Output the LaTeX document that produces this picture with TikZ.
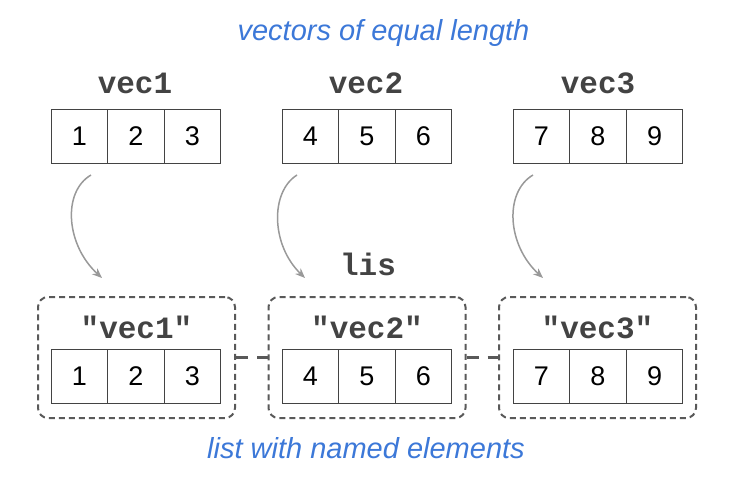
\documentclass[tikz,border=0pt]{standalone}
\usepackage{fontspec}
\setmainfont{Liberation Sans}
\newfontfamily\codefont{Liberation Mono}
\usetikzlibrary{arrows.meta}
\definecolor{titleblue}{HTML}{3C78D8}
\definecolor{codegray}{HTML}{434343}
\definecolor{boxgray}{HTML}{595959}
\definecolor{arrowgray}{HTML}{999999}
\begin{document}
\begin{tikzpicture}[x=1pt,y=-1pt,
    cell/.style={draw=codegray,line width=1pt,minimum width=56.5pt,minimum height=54pt,
      inner sep=0pt,font=\fontsize{27}{27}\selectfont},
    code/.style={text=codegray,font=\codefont\bfseries\fontsize{31}{31}\selectfont},
    caption/.style={text=titleblue,font=\itshape\fontsize{29}{29}\selectfont},
    holder/.style={draw=boxgray,line width=2pt,dash pattern=on 6pt off 4pt,
      rounded corners=10pt,minimum width=197pt,minimum height=121pt},
    link/.style={draw=boxgray,line width=3pt,dash pattern=on 12pt off 9pt},
    curvearrow/.style={draw=arrowgray,line width=1.5pt,-{Stealth[length=10pt,width=8pt]}}]
        \useasboundingbox (0,0) rectangle (736,485);
        % captions
        \node[caption] (top caption)    at (383.5, 33) {vectors of equal length};
        \node[caption] (bottom caption) at (366.0,448) {list with named elements};
        % vectors of equal length
        \node[code] (vec1) at (135, 83) {vec1};
        \node[code] (vec2) at (366, 83) {vec2};
        \node[code] (vec3) at (598, 83) {vec3};
        \node[cell] (a1) at ( 79.5,136) {1};
        \node[cell] (a2) at (136.0,136) {2};
        \node[cell] (a3) at (192.5,136) {3};
        \node[cell] (b1) at (310.5,136) {4};
        \node[cell] (b2) at (367.0,136) {5};
        \node[cell] (b3) at (423.5,136) {6};
        \node[cell] (c1) at (541.5,136) {7};
        \node[cell] (c2) at (598.0,136) {8};
        \node[cell] (c3) at (654.5,136) {9};
        % list with named elements
        \node[code] (lis) at (368,264) {lis};
        \node[holder] (elem1) at (136.5,357.5) {};
        \node[holder] (elem2) at (367.0,357.5) {};
        \node[holder] (elem3) at (597.5,357.5) {};
        \node[code] (name1) at (136.5,327) {"vec1"};
        \node[code] (name2) at (367.0,327) {"vec2"};
        \node[code] (name3) at (597.5,327) {"vec3"};
        \node[cell] (x1) at ( 79.5,376.5) {1};
        \node[cell] (x2) at (136.0,376.5) {2};
        \node[cell] (x3) at (192.5,376.5) {3};
        \node[cell] (y1) at (310.5,376.5) {4};
        \node[cell] (y2) at (367.0,376.5) {5};
        \node[cell] (y3) at (423.5,376.5) {6};
        \node[cell] (z1) at (541.5,376.5) {7};
        \node[cell] (z2) at (598.0,376.5) {8};
        \node[cell] (z3) at (654.5,376.5) {9};
        \draw[link] (elem1.east) -- (elem2.west);
        \draw[link] (elem2.east) -- (elem3.west);
        % arrows from the vectors into the list
        \coordinate (from1) at ( 91,175);
        \coordinate (to1)   at (102,278);
        \coordinate (from2) at (297,175);
        \coordinate (to2)   at (305,278);
        \coordinate (from3) at (533,175);
        \coordinate (to3)   at (543,278);
        \draw[curvearrow] (from1) .. controls +(-29,17) and +(-36,-33) .. (to1);
        \draw[curvearrow] (from2) .. controls +(-27,17) and +(-34,-33) .. (to2);
        \draw[curvearrow] (from3) .. controls +(-29,17) and +(-36,-33) .. (to3);
      \end{tikzpicture}
\end{document}
